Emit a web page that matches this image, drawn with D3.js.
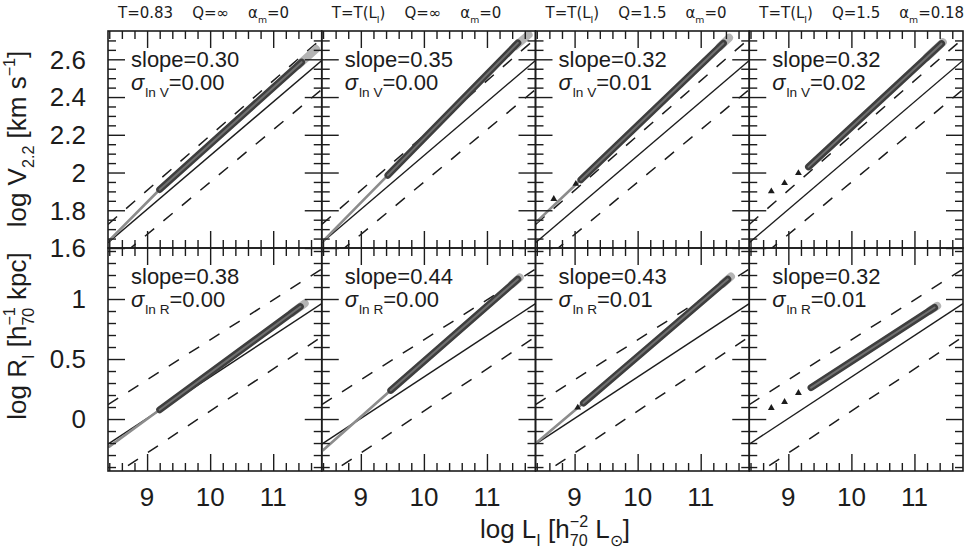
<!DOCTYPE html>
<html><head><meta charset="utf-8">
<script src="https://cdn.jsdelivr.net/npm/d3@7/dist/d3.min.js"></script>
<style>body{margin:0;background:#fff}svg{display:block}</style>
</head><body>
<svg id="c" width="973" height="556"></svg>
<script>
// ---------------- data ----------------
const xDomain = [8.38, 11.77];
const vDomain = [1.6, 2.75];
const rDomain = [-0.433, 1.425];

const xMajor = [9, 10, 11];
const xMinor = [8.4, 8.6, 8.8, 9.2, 9.4, 9.6, 9.8, 10.2, 10.4, 10.6, 10.8, 11.2, 11.4, 11.6];
const vMajor = [1.6, 1.8, 2.0, 2.2, 2.4, 2.6];
const vMinor = [1.65, 1.7, 1.75, 1.85, 1.9, 1.95, 2.05, 2.1, 2.15, 2.25, 2.3, 2.35, 2.45, 2.5, 2.55, 2.65, 2.7];
const rMajor = [0, 0.5, 1];
const rMinor = [-0.4, -0.3, -0.2, -0.1, 0.1, 0.2, 0.3, 0.4, 0.6, 0.7, 0.8, 0.9, 1.1, 1.2, 1.3, 1.4];

const titleT = ["0.83", "T(L_I)", "T(L_I)", "T(L_I)"];
const titleQ = ["∞", "∞", "1.5", "1.5"];
const titleAlpha = ["0", "0", "0", "0.18"];

const slopeV = ["0.30", "0.35", "0.32", "0.32"];
const sigmaV = ["0.00", "0.00", "0.01", "0.02"];
const slopeR = ["0.38", "0.44", "0.43", "0.32"];
const sigmaR = ["0.00", "0.00", "0.01", "0.01"];

// observed relations (same in every panel of a row): [[x0,y0],[x1,y1]]
const solidV = [[8.38, 1.628], [11.77, 2.594]];
const upperV = [[8.38, 1.725], [11.77, 2.710]];
const lowerV = [[8.38, 1.500], [11.77, 2.440]];
const solidR = [[8.38, -0.209], [11.77, 0.961]];
const upperR = [[8.38, 0.120], [11.77, 1.250]];
const lowerR = [[8.38, -0.500], [11.77, 0.686]];

// model galaxies: dense band, faint low-L tail, light high-L end, isolated triangles
const bandV = [[[9.20, 1.910], [11.45, 2.585]], [[9.43, 1.986], [11.49, 2.687]], [[9.10, 1.962], [11.36, 2.685]], [[9.32, 2.030], [11.43, 2.683]]];
const tailV = [[[8.40, 1.640], [9.20, 1.910]], [[8.40, 1.636], [9.43, 1.986]], [[8.40, 1.740], [9.10, 1.962]], null];
const endV  = [[[11.40, 2.570], [11.68, 2.654]], [[11.45, 2.670], [11.66, 2.730]], [[11.30, 2.666], [11.45, 2.714]], [[11.20, 2.612], [11.45, 2.690]]];
const triV  = [[], [], [[8.67, 1.86], [9.02, 1.94]], [[8.73, 1.900], [8.94, 1.944], [9.16, 1.997]]];

const bandR = [[[9.20, 0.077], [11.43, 0.936]], [[9.475, 0.239], [11.49, 1.165]], [[9.14, 0.133], [11.43, 1.164]], [[9.36, 0.262], [11.32, 0.929]]];
const tailR = [[[8.40, -0.230], [9.20, 0.077]], [[8.40, -0.260], [9.475, 0.239]], [[8.40, -0.195], [9.14, 0.133]], null];
const endR  = [[[11.30, 0.886], [11.50, 0.963]], [[11.40, 1.124], [11.52, 1.180]], [[11.35, 1.128], [11.48, 1.187]], [[11.25, 0.905], [11.36, 0.942]]];
const triR  = [[], [], [[9.05, 0.095]], [[8.73, 0.092], [8.94, 0.142], [9.16, 0.217]]];

// ---------------- layout ----------------
const L = 108, PW = 213.75, T0 = 31, MID = 248, B = 471;
const SANS = "'Liberation Sans', Arial, sans-serif";
const INK = "#1c1c1c";
const svg = d3.select("#c");

const xs = i => d3.scaleLinear().domain(xDomain).range([L + i * PW, L + (i + 1) * PW]);
const yV = d3.scaleLinear().domain(vDomain).range([MID, T0]);
const yR = d3.scaleLinear().domain(rDomain).range([B, MID]);

function rich(text, parts, fs) {
  let shift = 0, pend = 0;
  const small = fs * 0.62;
  parts.forEach(p => {
    const m = p.m || "n";
    if (m === "stack") {
      const a = text.append("tspan").attr("font-size", small).attr("dy", -fs * 0.42 - shift).text(p.t[0]);
      if (pend) a.attr("dx", pend);
      shift = -fs * 0.42;
      const w = a.node().getComputedTextLength();
      const b = text.append("tspan").attr("font-size", small).attr("dx", -w).attr("dy", fs * 0.32 - shift).text(p.t[1]);
      shift = fs * 0.32;
      const w2 = b.node().getComputedTextLength();
      pend = Math.max(0, w - w2);
    } else {
      const target = m === "sub" ? fs * 0.3 : m === "sup" ? -fs * 0.42 : 0;
      const t = text.append("tspan").attr("font-size", m === "n" ? fs : small).attr("dy", target - shift).text(p.t);
      if (pend || p.dx) t.attr("dx", pend + (p.dx || 0));
      if (p.it) t.attr("font-style", "italic");
      pend = 0;
      shift = target;
    }
  });
}

function splitSub(s) { // "T(L_I)" -> parts
  const k = s.indexOf("_");
  if (k < 0) return [{t: s}];
  return [{t: s.slice(0, k)}, {t: s[k + 1], m: "sub"}, {t: s.slice(k + 2)}];
}

const rows = [
  {y: yV, top: T0, bot: MID, major: vMajor, minor: vMinor, solid: solidV, upper: upperV, lower: lowerV,
   band: bandV, tail: tailV, end: endV, tri: triV, slope: slopeV, sigma: sigmaV, sub: "ln V"},
  {y: yR, top: MID, bot: B, major: rMajor, minor: rMinor, solid: solidR, upper: upperR, lower: lowerR,
   band: bandR, tail: tailR, end: endR, tri: triR, slope: slopeR, sigma: sigmaR, sub: "ln R"}
];

const defs = svg.append("defs");
const line = d3.line();

rows.forEach((row, r) => {
  for (let i = 0; i < 4; i++) {
    const x = xs(i), y = row.y;
    const x0 = x.range()[0], x1 = x.range()[1];
    const id = `clip${r}${i}`;
    defs.append("clipPath").attr("id", id).append("rect")
      .attr("x", x0).attr("y", row.top).attr("width", x1 - x0).attr("height", row.bot - row.top);
    const g = svg.append("g").attr("clip-path", `url(#${id})`);
    const P = pts => pts.map(d => [x(d[0]), y(d[1])]);

    // observed relation and scatter
    g.append("path").attr("d", line(P(row.upper))).attr("stroke", INK).attr("stroke-width", 1.5)
      .attr("stroke-dasharray", "12,12").attr("fill", "none");
    g.append("path").attr("d", line(P(row.lower))).attr("stroke", INK).attr("stroke-width", 1.5)
      .attr("stroke-dasharray", "12,12").attr("fill", "none");
    g.append("path").attr("d", line(P(row.solid))).attr("stroke", INK).attr("stroke-width", 1.4).attr("fill", "none");

    // model galaxies
    if (row.tail[i]) g.append("path").attr("d", line(P(row.tail[i]))).attr("stroke", "#8c8c8c")
      .attr("stroke-width", 2.6).attr("stroke-linecap", "round").attr("fill", "none");
    g.append("path").attr("d", line(P(row.end[i]))).attr("stroke", "#b4b4b4")
      .attr("stroke-width", 8).attr("stroke-linecap", "round").attr("fill", "none");
    g.append("path").attr("d", line(P(row.band[i]))).attr("stroke", "#3e3e3e")
      .attr("stroke-width", 7).attr("stroke-linecap", "round").attr("fill", "none");
    g.append("path").attr("d", line(P(row.band[i]))).attr("stroke", "#707070")
      .attr("stroke-width", 2).attr("stroke-linecap", "round").attr("fill", "none");
    row.tri[i].forEach(d => {
      g.append("path").attr("d", d3.symbol(d3.symbolTriangle, 20)())
        .attr("transform", `translate(${x(d[0])},${y(d[1])})`).attr("fill", INK);
    });

    // ticks on all four sides, pointing inward
    const ax = svg.append("g").attr("stroke", INK);
    const tk = (gen, vals, len, tr) => {
      const a = ax.append("g").attr("transform", tr).call(gen.tickValues(vals).tickSize(-len).tickFormat(""));
      a.select(".domain").remove();
      a.selectAll("line").attr("stroke", INK).attr("stroke-width", 1.4);
    };
    [[xMajor, 17], [xMinor, 8]].forEach(([v, l]) => {
      tk(d3.axisBottom(x), v, l, `translate(0,${row.bot})`);
      tk(d3.axisTop(x), v, l, `translate(0,${row.top})`);
    });
    [[row.major, 17], [row.minor, 8]].forEach(([v, l]) => {
      tk(d3.axisLeft(y), v, l, `translate(${x0},0)`);
      tk(d3.axisRight(y), v, l, `translate(${x1},0)`);
    });

    // frame
    svg.append("rect").attr("x", x0).attr("y", row.top).attr("width", x1 - x0).attr("height", row.bot - row.top)
      .attr("fill", "none").attr("stroke", INK).attr("stroke-width", 1.6);

    // inset text
    svg.append("text").attr("x", x0 + 23).attr("y", row.top + 36).attr("font-family", SANS)
      .attr("font-size", 22).attr("fill", INK).text("slope=" + row.slope[i]);
    const st = svg.append("text").attr("x", x0 + 23).attr("y", row.top + 59).attr("font-family", SANS).attr("fill", INK);
    rich(st, [{t: "σ", it: true}, {t: row.sub, m: "sub", dx: 1}, {t: "=" + row.sigma[i]}], 22);

    // x tick labels under bottom row
    if (r === 1) {
      xMajor.forEach(v => svg.append("text").attr("x", x(v)).attr("y", B + 35).attr("text-anchor", "middle")
        .attr("font-family", SANS).attr("font-size", 26).attr("fill", INK).text(v));
    }
    // column titles
    if (r === 0) {
      const tt = svg.append("text").attr("x", x0 + 10).attr("y", 18).attr("font-family", "'DejaVu Sans', sans-serif")
        .attr("fill", INK).attr("xml:space", "preserve");
      rich(tt, [{t: "T="}, ...splitSub(titleT[i]), {t: "Q=" + titleQ[i], dx: 19}, {t: "α", dx: 19}, {t: "m", m: "sub"}, {t: "=" + titleAlpha[i]}], 15);
    }
  }
  // y tick labels
  row.major.forEach(v => svg.append("text").attr("x", 86).attr("y", row.y(v)).attr("dy", "0.36em")
    .attr("text-anchor", "end").attr("font-family", SANS).attr("font-size", 26).attr("fill", INK).text(String(+v.toFixed(2))));
});

// axis titles
const ty = svg.append("text").attr("transform", "translate(26,139) rotate(-90)").attr("text-anchor", "middle")
  .attr("font-family", SANS).attr("fill", INK);
rich(ty, [{t: "log V"}, {t: "2.2", m: "sub"}, {t: " [km s"}, {t: "−1", m: "sup"}, {t: "]"}], 26);
const tr = svg.append("text").attr("transform", "translate(26,336) rotate(-90)").attr("text-anchor", "middle")
  .attr("font-family", SANS).attr("fill", INK);
rich(tr, [{t: "log R"}, {t: "I", m: "sub"}, {t: " [h"}, {t: ["−1", "70"], m: "stack"}, {t: " kpc]"}], 26);
const tx = svg.append("text").attr("x", 555).attr("y", 538).attr("text-anchor", "middle")
  .attr("font-family", SANS).attr("fill", INK);
rich(tx, [{t: "log L"}, {t: "I", m: "sub"}, {t: " [h"}, {t: ["−2", "70"], m: "stack"}, {t: " L"}, {t: "⊙", m: "sub"}, {t: "]"}], 26);
</script>
</body></html>
